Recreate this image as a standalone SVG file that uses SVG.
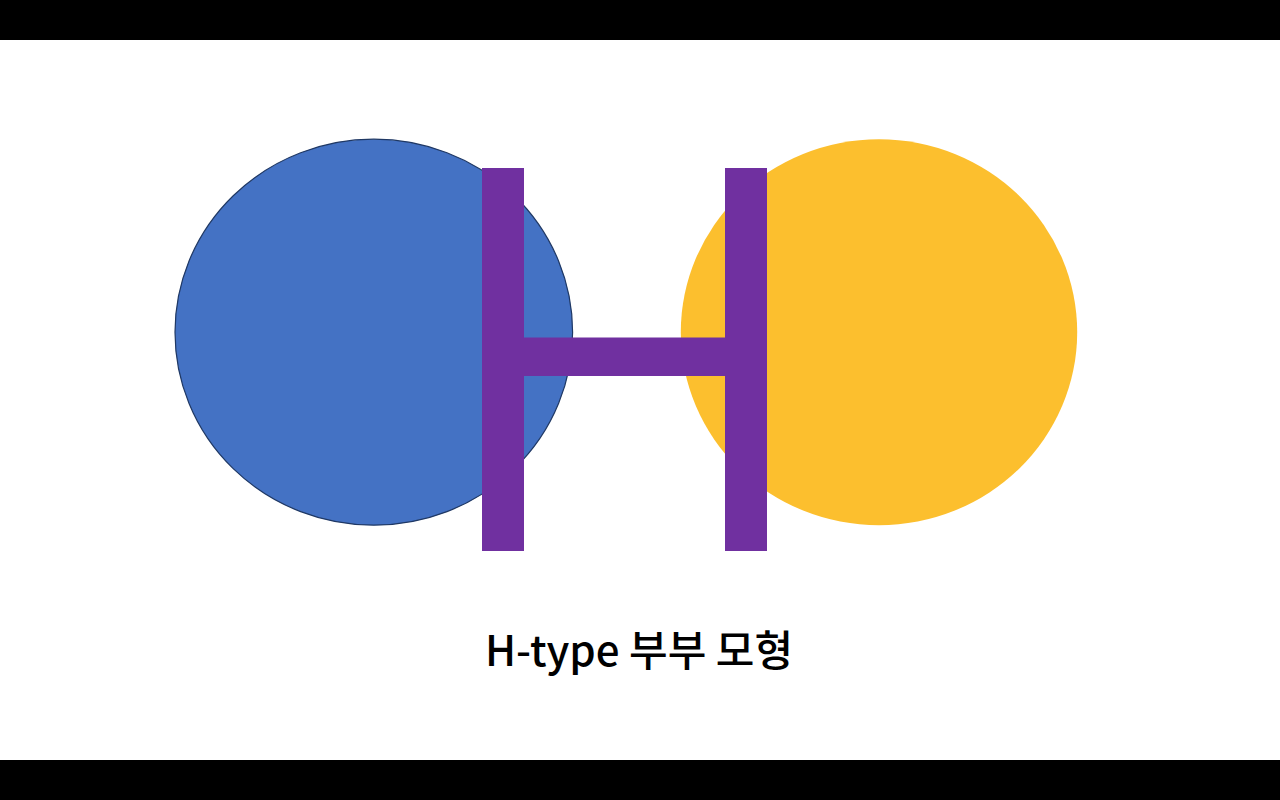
<svg xmlns="http://www.w3.org/2000/svg" width="1280" height="800" viewBox="0 0 1280 800">
<style>
.bar{fill:#000}
.h{fill:#7030A0}
.label{font-family:"Noto Sans CJK KR","Noto Sans",sans-serif;font-weight:500;font-size:42px;fill:#000}
</style>
<rect x="0" y="0" width="1280" height="800" fill="#fff"/>
<rect class="bar" x="0" y="0" width="1280" height="40"/>
<rect class="bar" x="0" y="760" width="1280" height="40"/>
<g id="blue-circle">
<ellipse cx="373.8" cy="332.2" rx="198.8" ry="193" fill="#4472C4" stroke="#1F3864" stroke-width="1.2"/>
</g>
<g id="yellow-circle">
<ellipse cx="879" cy="332.2" rx="198.2" ry="193" fill="#FCBF2E"/>
</g>
<g id="h-shape">
<rect class="h" x="482" y="168" width="42" height="383"/>
<rect class="h" x="725" y="168" width="42" height="383"/>
<rect class="h" x="523" y="337.5" width="203" height="38.5"/>
</g>
<g id="title">
<text class="label" x="639" y="666" text-anchor="middle">H-type 부부 모형</text>
</g>
</svg>
